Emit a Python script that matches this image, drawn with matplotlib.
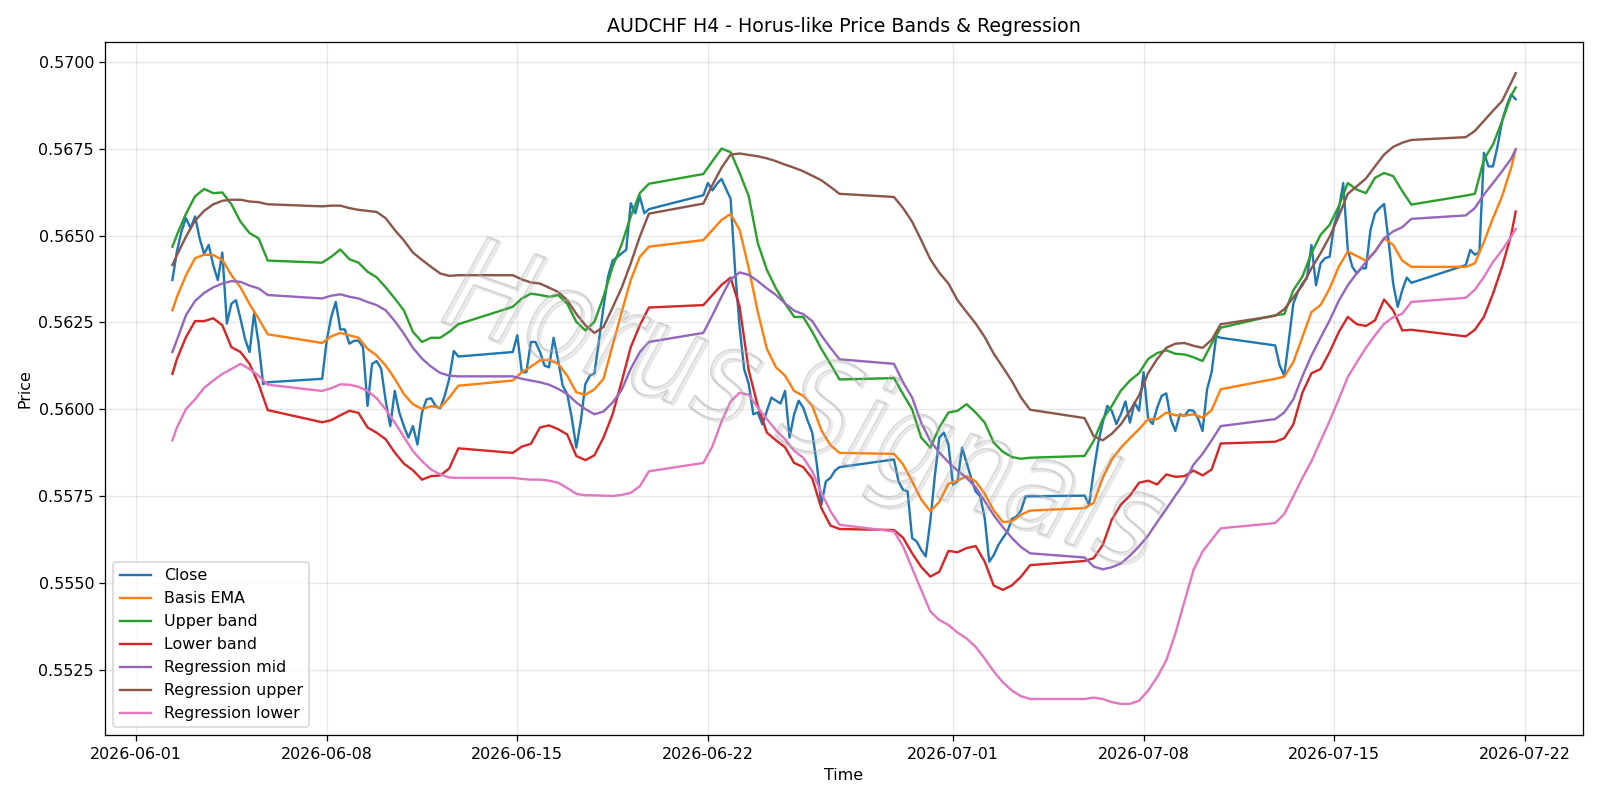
import matplotlib
matplotlib.use("Agg")
import matplotlib.pyplot as plt
import numpy as np
import pandas as pd
from matplotlib.font_manager import FontProperties
from matplotlib.patches import PathPatch
from matplotlib.textpath import TextPath
from matplotlib.transforms import Affine2D

# H4 bars: Monday-Friday plus the Sunday 20:00 open bar
all_slots = pd.date_range("2026-06-02 08:00", "2026-07-21 16:00", freq="4h")
keep = (all_slots.dayofweek < 5) | ((all_slots.dayofweek == 6) & (all_slots.hour == 20))
bar_times = all_slots[keep]

# band / regression lines were read every 8 hours (plus first and last bar)
band_mask = np.asarray(bar_times.hour.isin([4, 12, 20]))
band_mask[0] = True
band_mask[-1] = True
band_times = bar_times[band_mask]

close = np.array([
    # week of 06-01
    0.56372, 0.56454, 0.56512, 0.56550, 0.56521, 0.56555, 0.56492, 0.56447, 0.56473, 0.56415, 0.56372,
    0.56451, 0.56247, 0.56304, 0.56314, 0.56261, 0.56203, 0.56165, 0.56276, 0.56189, 0.56073, 0.56078,
    # week of 06-08
    0.56088, 0.56198, 0.56266, 0.56309, 0.56230, 0.56230, 0.56189, 0.56197, 0.56198, 0.56179, 0.56010,
    0.56131, 0.56139, 0.56117, 0.56025, 0.55952, 0.56053, 0.55991, 0.55952, 0.55919, 0.55952, 0.55899,
    0.55991, 0.56029, 0.56032, 0.56010, 0.56003, 0.56039, 0.56088, 0.56168, 0.56152,
    # week of 06-15
    0.56165, 0.56213, 0.56107, 0.56107, 0.56194, 0.56194, 0.56165, 0.56126, 0.56121, 0.56206, 0.56141,
    0.56068, 0.56044, 0.55976, 0.55890, 0.55967, 0.56073, 0.56097, 0.56104, 0.56198, 0.56295, 0.56382,
    0.56428, 0.56438, 0.56449, 0.56459, 0.56593, 0.56564, 0.56612, 0.56564, 0.56576,
    # week of 06-22
    0.56616, 0.56651, 0.56630, 0.56649, 0.56663, 0.56634, 0.56606, 0.56399, 0.56235, 0.56115, 0.56073,
    0.55986, 0.55991, 0.55957, 0.55996, 0.56034, 0.56025, 0.56017, 0.56053, 0.55919, 0.55986, 0.56025,
    0.56005, 0.55967, 0.55933, 0.55842, 0.55726, 0.55793, 0.55803, 0.55824, 0.55834,
    # week of 06-29
    0.55856, 0.55793, 0.55769, 0.55764, 0.55630, 0.55620, 0.55596, 0.55577, 0.55678, 0.55808, 0.55919,
    0.55933, 0.55899, 0.55783, 0.55793, 0.55890, 0.55846, 0.55803, 0.55764, 0.55750, 0.55687, 0.55562,
    0.55581, 0.55610, 0.55630, 0.55649, 0.55685, 0.55692, 0.55709, 0.55750, 0.55750,
    # week of 07-06
    0.55752, 0.55726, 0.55822, 0.55904, 0.55962, 0.56010, 0.55996, 0.55958, 0.55986, 0.56023, 0.55962,
    0.56020, 0.55996, 0.56107, 0.55974, 0.55958, 0.56005, 0.56039, 0.56046, 0.55972, 0.55938, 0.55986,
    0.55981, 0.55998, 0.55996, 0.55974, 0.55938, 0.56058, 0.56107, 0.56210, 0.56206,
    # week of 07-13
    0.56184, 0.56126, 0.56097, 0.56198, 0.56304, 0.56338, 0.56362, 0.56377, 0.56473, 0.56357, 0.56420,
    0.56435, 0.56439, 0.56531, 0.56574, 0.56651, 0.56459, 0.56410, 0.56391, 0.56406, 0.56406, 0.56516,
    0.56564, 0.56579, 0.56591, 0.56483, 0.56362, 0.56295, 0.56343, 0.56379, 0.56364,
    # week of 07-20
    0.56415, 0.56459, 0.56445, 0.56452, 0.56738, 0.56699, 0.56699, 0.56757, 0.56829, 0.56873, 0.56906,
    0.56892,
])

basis_ema = np.array([
    0.56285, 0.56324, 0.56386, 0.56435, 0.56445, 0.56444, 0.56430, 0.56386, 0.56351, 0.56303, 0.56261, 0.56216,
    0.56191, 0.56210, 0.56220, 0.56213, 0.56206, 0.56174, 0.56155, 0.56126, 0.56088, 0.56044, 0.56015, 0.56001,
    0.56009, 0.56005, 0.56034, 0.56068,
    0.56083, 0.56107, 0.56123, 0.56141, 0.56143, 0.56131, 0.56097, 0.56049, 0.56042, 0.56058, 0.56088, 0.56184,
    0.56280, 0.56372, 0.56439, 0.56468,
    0.56487, 0.56516, 0.56545, 0.56562, 0.56516, 0.56406, 0.56280, 0.56174, 0.56121, 0.56097, 0.56053, 0.56039,
    0.56010, 0.55940, 0.55897, 0.55875,
    0.55872, 0.55842, 0.55793, 0.55741, 0.55707, 0.55734, 0.55786, 0.55795, 0.55808, 0.55793, 0.55757, 0.55709,
    0.55676, 0.55678, 0.55697, 0.55709,
    0.55716, 0.55731, 0.55803, 0.55856, 0.55890, 0.55917, 0.55943, 0.55972, 0.55972, 0.55991, 0.55983, 0.55982,
    0.55986, 0.55976, 0.55998, 0.56058,
    0.56088, 0.56094, 0.56136, 0.56208, 0.56280, 0.56300, 0.56348, 0.56410, 0.56454, 0.56441, 0.56428, 0.56454,
    0.56492, 0.56473, 0.56428, 0.56410,
    0.56410, 0.56420, 0.56482, 0.56550, 0.56613, 0.56695, 0.56748,
])

upper_band = np.array([
    0.56468, 0.56502, 0.56563, 0.56613, 0.56634, 0.56622, 0.56624, 0.56590, 0.56540, 0.56507, 0.56492, 0.56428,
    0.56422, 0.56439, 0.56460, 0.56432, 0.56422, 0.56396, 0.56380, 0.56351, 0.56319, 0.56285, 0.56223, 0.56194,
    0.56206, 0.56206, 0.56223, 0.56245,
    0.56295, 0.56319, 0.56333, 0.56329, 0.56324, 0.56329, 0.56304, 0.56252, 0.56227, 0.56252, 0.56324, 0.56410,
    0.56475, 0.56555, 0.56622, 0.56649,
    0.56677, 0.56714, 0.56750, 0.56740, 0.56680, 0.56613, 0.56478, 0.56401, 0.56348, 0.56305, 0.56266, 0.56266,
    0.56223, 0.56174, 0.56131, 0.56086,
    0.56090, 0.56044, 0.56000, 0.55919, 0.55890, 0.55948, 0.55991, 0.55996, 0.56015, 0.55991, 0.55962, 0.55904,
    0.55878, 0.55863, 0.55858, 0.55861,
    0.55866, 0.55909, 0.55972, 0.56010, 0.56054, 0.56083, 0.56104, 0.56145, 0.56162, 0.56170, 0.56160, 0.56158,
    0.56150, 0.56139, 0.56189, 0.56235,
    0.56271, 0.56274, 0.56343, 0.56382, 0.56449, 0.56502, 0.56531, 0.56584, 0.56651, 0.56632, 0.56622, 0.56666,
    0.56680, 0.56671, 0.56628, 0.56589,
    0.56615, 0.56620, 0.56719, 0.56762, 0.56829, 0.56902, 0.56926,
])

lower_band = np.array([
    0.56102, 0.56145, 0.56208, 0.56254, 0.56254, 0.56262, 0.56242, 0.56179, 0.56165, 0.56131, 0.56073, 0.55998,
    0.55963, 0.55969, 0.55983, 0.55996, 0.55990, 0.55948, 0.55933, 0.55914, 0.55876, 0.55844, 0.55825, 0.55798,
    0.55808, 0.55810, 0.55830, 0.55888,
    0.55875, 0.55893, 0.55901, 0.55948, 0.55954, 0.55943, 0.55928, 0.55866, 0.55854, 0.55868, 0.55919, 0.55986,
    0.56080, 0.56179, 0.56242, 0.56293,
    0.56300, 0.56329, 0.56358, 0.56379, 0.56295, 0.56112, 0.56010, 0.55933, 0.55911, 0.55891, 0.55846, 0.55834,
    0.55801, 0.55716, 0.55666, 0.55656,
    0.55653, 0.55631, 0.55586, 0.55547, 0.55519, 0.55533, 0.55593, 0.55589, 0.55601, 0.55607, 0.55562, 0.55493,
    0.55481, 0.55494, 0.55519, 0.55552,
    0.55564, 0.55572, 0.55610, 0.55683, 0.55726, 0.55752, 0.55789, 0.55795, 0.55784, 0.55813, 0.55806, 0.55808,
    0.55824, 0.55810, 0.55827, 0.55902,
    0.55907, 0.55917, 0.55957, 0.56048, 0.56104, 0.56116, 0.56165, 0.56222, 0.56266, 0.56245, 0.56240, 0.56256,
    0.56316, 0.56285, 0.56227, 0.56229,
    0.56210, 0.56229, 0.56266, 0.56333, 0.56410, 0.56502, 0.56569,
])

reg_mid = np.array([
    0.56165, 0.56200, 0.56271, 0.56312, 0.56335, 0.56351, 0.56362, 0.56369, 0.56367, 0.56356, 0.56348, 0.56329,
    0.56319, 0.56327, 0.56331, 0.56324, 0.56319, 0.56309, 0.56300, 0.56285, 0.56254, 0.56218, 0.56177, 0.56146,
    0.56123, 0.56105, 0.56097, 0.56095,
    0.56095, 0.56088, 0.56083, 0.56078, 0.56071, 0.56059, 0.56044, 0.56020, 0.56001, 0.55986, 0.55994, 0.56020,
    0.56056, 0.56117, 0.56165, 0.56194,
    0.56220, 0.56271, 0.56324, 0.56374, 0.56394, 0.56387, 0.56369, 0.56348, 0.56329, 0.56305, 0.56284, 0.56274,
    0.56254, 0.56213, 0.56177, 0.56144,
    0.56131, 0.56078, 0.56034, 0.55962, 0.55909, 0.55876, 0.55848, 0.55824, 0.55803, 0.55776, 0.55736, 0.55695,
    0.55661, 0.55630, 0.55604, 0.55586,
    0.55574, 0.55548, 0.55540, 0.55546, 0.55557, 0.55579, 0.55606, 0.55637, 0.55676, 0.55713, 0.55752, 0.55789,
    0.55841, 0.55872, 0.55911, 0.55952,
    0.55972, 0.55991, 0.56029, 0.56095, 0.56155, 0.56206, 0.56256, 0.56312, 0.56357, 0.56392, 0.56424, 0.56454,
    0.56492, 0.56512, 0.56524, 0.56548,
    0.56558, 0.56579, 0.56618, 0.56651, 0.56685, 0.56721, 0.56748,
])

reg_upper = np.array([
    0.56415, 0.56444, 0.56497, 0.56543, 0.56571, 0.56590, 0.56600, 0.56603, 0.56603, 0.56598, 0.56596, 0.56590,
    0.56584, 0.56586, 0.56586, 0.56579, 0.56574, 0.56571, 0.56568, 0.56550, 0.56516, 0.56486, 0.56451, 0.56430,
    0.56410, 0.56391, 0.56384, 0.56386,
    0.56386, 0.56374, 0.56365, 0.56362, 0.56350, 0.56338, 0.56314, 0.56275, 0.56242, 0.56220, 0.56237, 0.56293,
    0.56350, 0.56420, 0.56497, 0.56563,
    0.56592, 0.56646, 0.56695, 0.56733, 0.56736, 0.56732, 0.56728, 0.56722, 0.56714, 0.56704, 0.56695, 0.56685,
    0.56672, 0.56659, 0.56640, 0.56620,
    0.56611, 0.56579, 0.56540, 0.56487, 0.56432, 0.56393, 0.56362, 0.56314, 0.56280, 0.56247, 0.56208, 0.56160,
    0.56121, 0.56081, 0.56034, 0.55999,
    0.55975, 0.55923, 0.55911, 0.55930, 0.55957, 0.55996, 0.56040, 0.56104, 0.56145, 0.56177, 0.56189, 0.56191,
    0.56183, 0.56177, 0.56200, 0.56245,
    0.56269, 0.56288, 0.56322, 0.56357, 0.56406, 0.56449, 0.56497, 0.56555, 0.56620, 0.56642, 0.56664, 0.56699,
    0.56733, 0.56755, 0.56767, 0.56775,
    0.56783, 0.56801, 0.56830, 0.56859, 0.56887, 0.56940, 0.56967,
])

reg_lower = np.array([
    0.55911, 0.55948, 0.56001, 0.56029, 0.56062, 0.56083, 0.56102, 0.56116, 0.56131, 0.56116, 0.56097, 0.56071,
    0.56053, 0.56061, 0.56072, 0.56071, 0.56065, 0.56053, 0.56032, 0.56000, 0.55962, 0.55921, 0.55880, 0.55851,
    0.55827, 0.55813, 0.55804, 0.55803,
    0.55803, 0.55800, 0.55798, 0.55798, 0.55795, 0.55789, 0.55774, 0.55757, 0.55753, 0.55753, 0.55752, 0.55751,
    0.55754, 0.55760, 0.55779, 0.55822,
    0.55846, 0.55894, 0.55965, 0.56023, 0.56048, 0.56042, 0.56005, 0.55972, 0.55940, 0.55914, 0.55881, 0.55861,
    0.55822, 0.55760, 0.55707, 0.55668,
    0.55649, 0.55606, 0.55543, 0.55481, 0.55419, 0.55394, 0.55380, 0.55358, 0.55341, 0.55317, 0.55283, 0.55246,
    0.55215, 0.55191, 0.55175, 0.55167,
    0.55167, 0.55171, 0.55167, 0.55158, 0.55153, 0.55153, 0.55162, 0.55191, 0.55230, 0.55278, 0.55355, 0.55447,
    0.55538, 0.55591, 0.55625, 0.55658,
    0.55673, 0.55699, 0.55750, 0.55803, 0.55851, 0.55909, 0.55967, 0.56029, 0.56093, 0.56136, 0.56177, 0.56213,
    0.56246, 0.56265, 0.56275, 0.56309,
    0.56321, 0.56344, 0.56381, 0.56424, 0.56458, 0.56497, 0.56519,
])

watermark = "Horus Signals"

fig, ax = plt.subplots(figsize=(14, 7), dpi=800 / 7)
ax.plot(bar_times, close, label="Close")
ax.plot(band_times, basis_ema, label="Basis EMA")
ax.plot(band_times, upper_band, label="Upper band")
ax.plot(band_times, lower_band, label="Lower band")
ax.plot(band_times, reg_mid, label="Regression mid")
ax.plot(band_times, reg_upper, label="Regression upper")
ax.plot(band_times, reg_lower, label="Regression lower")

ax.set_title("AUDCHF H4 - Horus-like Price Bands & Regression")
ax.set_xlabel("Time")
ax.set_ylabel("Price")
ax.grid(True, alpha=0.3)
ax.legend(loc="lower left")

fig.tight_layout()

# hollow, narrow, slanted watermark across the middle of the figure
tp = TextPath((0, 0), watermark, size=1,
              prop=FontProperties(family="DejaVu Sans", style="italic"))
ext = tp.get_extents()
w_px, h_px = fig.get_size_inches() * fig.dpi
place = (Affine2D()
         .translate(-(ext.x0 + ext.width / 2), -(ext.y0 + ext.height / 2))
         .scale(0.84 * 130, 130)
         .rotate_deg(-19.5)
         .translate(0.502 * w_px, 0.486 * h_px))
shadow = PathPatch(tp, transform=place + Affine2D().translate(2, -2),
                   facecolor="none", edgecolor="#8a8a8a", linewidth=1.8, alpha=0.2)
outline = PathPatch(tp, transform=place,
                    facecolor="none", edgecolor="#b4b4b4", linewidth=1.1, alpha=0.5)
fig.add_artist(shadow)
fig.add_artist(outline)

fig.savefig("out.png", dpi=800 / 7)
